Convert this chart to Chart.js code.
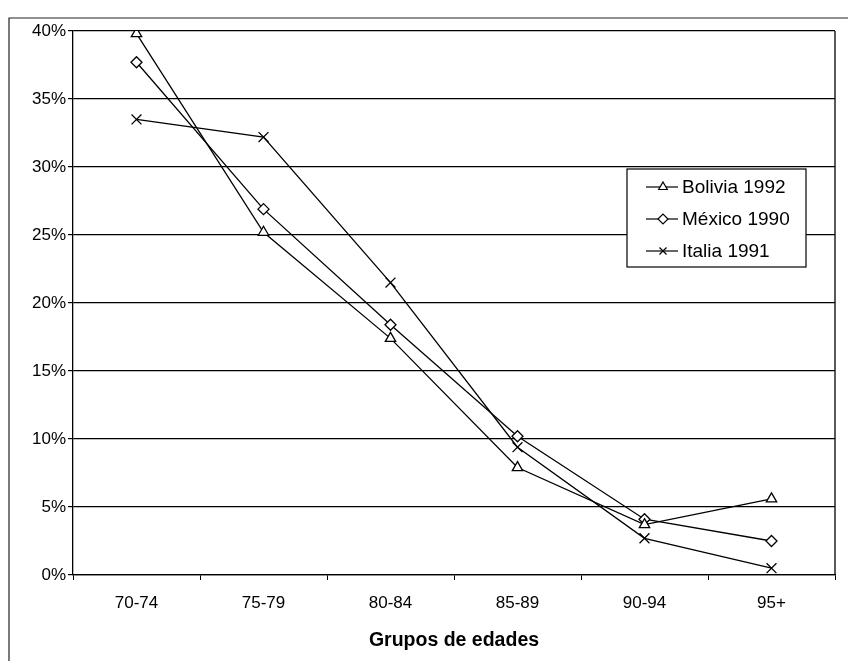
<!DOCTYPE html>
<html lang="es">
<head>
    <meta charset="UTF-8">
    <title>Grupos de edades</title>
    <script src="https://cdn.jsdelivr.net/npm/chart.js"></script>
    <style>
        body {
            margin: 0;
            background: #fff;
        }
        .wrap {
            position: relative;
            width: 848px;
            height: 661px;
        }
    </style>
</head>
<body>
    <div class="wrap">
        <canvas id="edades" width="848" height="661"></canvas>
    </div>

    <script>
        // data, percent
        const grupos = ['70-74', '75-79', '80-84', '85-89', '90-94', '95+'];
        const bolivia1992 = [39.8, 25.2, 17.4, 7.9, 3.7, 5.6];
        const mexico1990 = [37.7, 26.9, 18.4, 10.2, 4.1, 2.5];
        const italia1991 = [33.5, 32.2, 21.5, 9.4, 2.7, 0.5];
        const yTicks = [0, 5, 10, 15, 20, 25, 30, 35, 40];

        const font = 'Liberation Sans, Arial, sans-serif';

        const serie = (label, data, pointStyle, radius) => ({
            label: label,
            data: data,
            borderColor: '#000',
            backgroundColor: '#fff',
            borderWidth: 1.3,
            tension: 0,
            pointStyle: pointStyle,
            pointRadius: radius,
            pointBorderColor: '#000',
            pointBackgroundColor: '#fff',
            pointBorderWidth: 1.3,
        });

        // outer frame of the scanned figure + right edge of the plot area
        const frame = {
            id: 'frame',
            beforeDraw(chart) {
                const ctx = chart.ctx;
                ctx.save();
                ctx.strokeStyle = '#222';
                ctx.lineWidth = 1.2;
                ctx.beginPath();
                ctx.moveTo(9, 661);
                ctx.lineTo(9, 18);
                ctx.lineTo(848, 18);
                ctx.stroke();
                ctx.restore();
            },
            afterDatasetsDraw(chart) {
                const a = chart.chartArea;
                const ctx = chart.ctx;
                ctx.save();
                ctx.strokeStyle = '#000';
                ctx.lineWidth = 1.3;
                ctx.beginPath();
                ctx.moveTo(a.right, a.top);
                ctx.lineTo(a.right, a.bottom);
                ctx.stroke();
                ctx.restore();
            }
        };

        // boxed legend with line + marker, like the original
        const boxLegend = {
            id: 'boxLegend',
            afterDraw(chart) {
                const ctx = chart.ctx;
                const x0 = 627, y0 = 169, w = 179, h = 98;
                ctx.save();
                ctx.fillStyle = '#fff';
                ctx.fillRect(x0, y0, w, h);
                ctx.strokeStyle = '#000';
                ctx.lineWidth = 1.2;
                ctx.strokeRect(x0, y0, w, h);
                ctx.font = '19px ' + font;
                ctx.textBaseline = 'middle';
                chart.data.datasets.forEach((ds, i) => {
                    const y = y0 + 18 + i * 32;
                    ctx.strokeStyle = '#000';
                    ctx.lineWidth = 1.2;
                    ctx.beginPath();
                    ctx.moveTo(x0 + 19, y);
                    ctx.lineTo(x0 + 51, y);
                    ctx.stroke();
                    ctx.fillStyle = '#fff';
                    Chart.helpers.drawPoint(ctx, {
                        pointStyle: ds.pointStyle,
                        radius: 5,
                        borderWidth: 1.2
                    }, x0 + 36, y);
                    ctx.fillStyle = '#000';
                    ctx.fillText(ds.label, x0 + 55, y + 1);
                });
                ctx.restore();
            }
        };

        new Chart(document.getElementById('edades'), {
            type: 'line',
            data: {
                labels: grupos,
                datasets: [
                    serie('Bolivia 1992', bolivia1992, 'triangle', 6),
                    serie('México 1990', mexico1990, 'rectRot', 5.5),
                    serie('Italia 1991', italia1991, 'crossRot', 7),
                ],
            },
            options: {
                responsive: false,
                animation: false,
                devicePixelRatio: 1,
                layout: {
                    padding: { top: 31, right: 13, left: 0, bottom: 0 }
                },
                plugins: {
                    legend: { display: false },
                    tooltip: { enabled: false },
                },
                scales: {
                    x: {
                        offset: true,
                        border: { color: '#000', width: 1.3 },
                        grid: {
                            offset: true,
                            drawOnChartArea: false,
                            drawTicks: true,
                            tickLength: 5,
                            color: '#000',
                        },
                        ticks: {
                            color: '#000',
                            font: { family: font, size: 17 },
                            padding: 13,
                            maxRotation: 0,
                            autoSkip: false,
                        },
                        title: {
                            display: true,
                            text: 'Grupos de edades',
                            color: '#000',
                            font: { family: font, size: 19.5, weight: 'bold' },
                            padding: { top: 0, bottom: 9 },
                        },
                        afterFit(scale) { scale.height = 86; },
                    },
                    y: {
                        min: 0,
                        max: 40,
                        border: { color: '#000', width: 1.3 },
                        grid: {
                            color: '#000',
                            lineWidth: 1.2,
                            tickLength: 5,
                        },
                        afterBuildTicks(scale) {
                            scale.ticks = yTicks.map(v => ({ value: v }));
                        },
                        ticks: {
                            color: '#000',
                            font: { family: font, size: 17 },
                            padding: 2,
                            callback: v => v + '%',
                        },
                        afterFit(scale) { scale.width = 73; },
                    },
                },
            },
            plugins: [frame, boxLegend],
        });
    </script>
</body>
</html>
